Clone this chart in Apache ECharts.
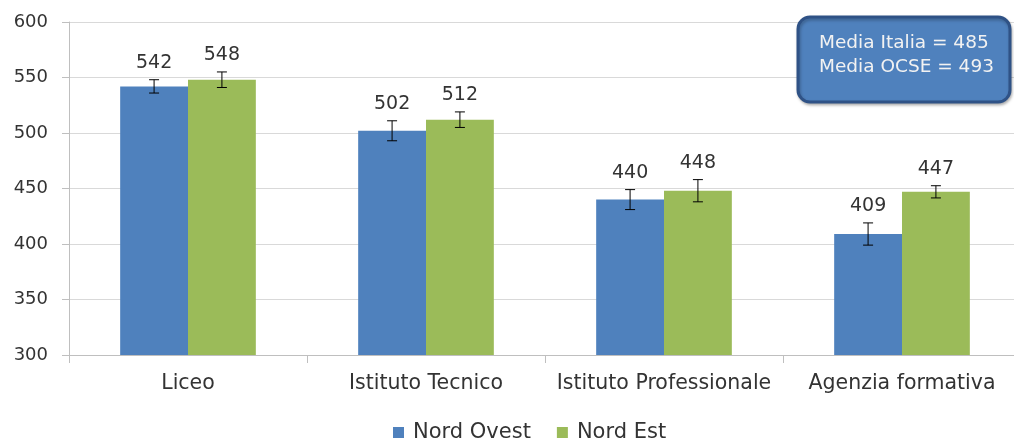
<!DOCTYPE html>
<html><head><meta charset="utf-8">
<script src="https://cdn.jsdelivr.net/npm/echarts@6/dist/echarts.min.js"></script>
<style>html,body{margin:0;padding:0;background:#fff}#c{width:1014px;height:439px}</style>
</head><body><div id="c"></div>
<script>
const categories = ['Liceo', 'Istituto Tecnico', 'Istituto Professionale', 'Agenzia formativa'];
const seriesNames = ['Nord Ovest', 'Nord Est'];
const nordOvest = [542, 502, 440, 409];
const nordEst = [548, 512, 448, 447];
const errOvest = [6, 9, 9, 10];
const errEst = [7, 7, 10, 5.5];
const yTicks = [300, 350, 400, 450, 500, 550, 600];
const noteLines = ['Media Italia = 485', 'Media OCSE = 493'];

const FONT = 'DejaVu Sans';
const GAP = 0.43;
const colors = ['#4F81BD', '#9BBB59'];
const TXT = '#333333';

function errSeries(vals, errs, side) {
  return {
    type: 'custom',
    z: 10,
    silent: true,
    data: vals.map((v, i) => [i, v, errs[i]]),
    renderItem: function (params, api) {
      const i = api.value(0), v = api.value(1), e = api.value(2);
      const band = api.size([1, 0])[0];
      const bw = band * (1 - GAP) / 2;
      const c = api.coord([i, v]);
      const x = c[0] + side * bw / 2;
      const top = api.coord([i, v + e])[1];
      const bot = api.coord([i, v - e])[1];
      const cap = 5;
      const st = { stroke: '#000', lineWidth: 1 };
      return {
        type: 'group',
        children: [
          { type: 'line', shape: { x1: x, y1: top, x2: x, y2: bot }, style: st },
          { type: 'line', shape: { x1: x - cap, y1: top, x2: x + cap, y2: top }, style: st },
          { type: 'line', shape: { x1: x - cap, y1: bot, x2: x + cap, y2: bot }, style: st },
          { type: 'text', x: x, y: top - 7, style: { text: String(v), fill: TXT, font: '19px "' + FONT + '"', align: 'center', verticalAlign: 'bottom' } }
        ]
      };
    }
  };
}

const chart = echarts.init(document.getElementById('c'));
chart.setOption({
  animation: false,
  grid: { left: 69, top: 22, width: 952, height: 333, outerBoundsMode: 'none', containLabel: false },
  legend: {
    data: seriesNames,
    top: 417,
    left: 388,
    itemWidth: 11, itemHeight: 11, itemGap: 26,
    icon: 'rect',
    textStyle: { fontFamily: FONT, fontSize: 21, color: TXT, padding: [0, 0, 0, 4] }
  },
  xAxis: {
    type: 'category',
    data: categories,
    axisLine: { lineStyle: { color: '#BFBFBF' } },
    axisTick: { show: true, length: 8, alignWithLabel: false, lineStyle: { color: '#BFBFBF' } },
    axisLabel: { fontFamily: FONT, fontSize: 20.5, color: TXT, margin: 18, interval: 0 }
  },
  yAxis: {
    type: 'value',
    min: yTicks[0], max: yTicks[yTicks.length - 1], interval: 50,
    axisLine: { show: true, lineStyle: { color: '#BFBFBF' } },
    axisTick: { show: true, length: 7, lineStyle: { color: '#BFBFBF' } },
    splitLine: { lineStyle: { color: '#D9D9D9' } },
    axisLabel: { fontFamily: FONT, fontSize: 18, color: TXT, margin: 21 }
  },
  series: [
    { name: seriesNames[0], type: 'bar', data: nordOvest, itemStyle: { color: colors[0] }, barGap: '0%', barCategoryGap: (GAP * 100) + '%' },
    { name: seriesNames[1], type: 'bar', data: nordEst, itemStyle: { color: colors[1] }, barGap: '0%', barCategoryGap: (GAP * 100) + '%' },
    errSeries(nordOvest, errOvest, -1),
    errSeries(nordEst, errEst, 1)
  ],
  graphic: [
    {
      type: 'rect', z: 100,
      shape: { x: 798, y: 17, width: 212, height: 85, r: 12 },
      style: { fill: '#4F81BD', stroke: '#2F5286', lineWidth: 3, shadowBlur: 3, shadowOffsetX: 1, shadowOffsetY: 2, shadowColor: 'rgba(0,0,0,0.25)' }
    },
    {
      type: 'text', z: 101, x: 819, y: 31,
      style: { text: noteLines.join('\n'), fill: '#F2F2F2', font: '18.5px "' + FONT + '"', lineHeight: 24 }
    }
  ]
});
</script></body></html>
